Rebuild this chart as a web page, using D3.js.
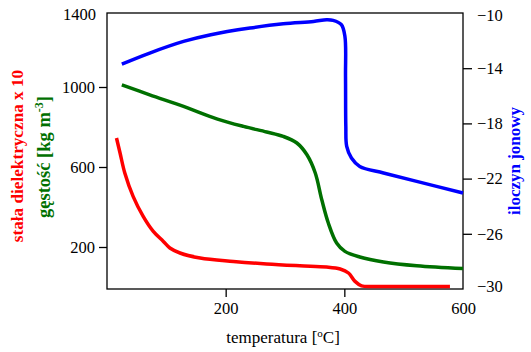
<!DOCTYPE html>
<html>
<head>
<meta charset="utf-8">
<script src="https://cdn.jsdelivr.net/npm/d3@7"></script>
</head>
<body style="margin:0">
<div id="chart"></div>
<script>
// temperatura [°C] vs stała dielektryczna x 10
const redT = [16, 22, 30, 44, 61, 78, 95, 106, 123, 157, 213, 269, 325, 370, 393, 407, 418, 429, 455, 578];
const redV = [745, 670, 570, 453, 353, 278, 228, 195, 170, 145, 128, 115, 106, 100, 90, 70, 28, 6, 3, 3];

// gęstość [kg m-3]
const greenT = [25, 72, 129, 185, 230, 269, 297, 320, 337, 351, 362, 373, 387, 401, 426, 466, 522, 600];
const greenV = [1011, 961, 903, 841, 803, 775, 753, 720, 661, 570, 436, 320, 220, 178, 150, 125, 106, 92];

// iloczyn jonowy
const blueT = [25, 72, 129, 175, 241, 297, 348, 370, 381, 395, 401, 402, 402.5, 404, 412, 426, 466, 522, 600];
const blueV = [-13.7, -12.9, -12.06, -11.57, -11.09, -10.78, -10.61, -10.49, -10.53, -10.85, -11.7, -14.6, -18.2, -19.67, -20.51, -21.12, -21.59, -22.2, -23.04];

const xTicks = [200, 400, 600];
const leftTicks = [200, 600, 1000];
const rightTicks = [-14, -18, -22, -26];

function init() {
    const W = 531, H = 352;
    const margin = { top: 13, right: 68, bottom: 63, left: 107 },
        width = W - margin.left - margin.right,
        height = H - margin.top - margin.bottom;

    const svg = d3.select("#chart").append("svg")
        .attr("width", W).attr("height", H);
    const g = svg.append("g")
        .attr("transform", `translate(${margin.left},${margin.top})`);

    const x = d3.scaleLinear().domain([0, 600]).range([0, width]);
    const yL = d3.scaleLinear().domain([-10, 1370]).range([height, 0]);
    const yR = d3.scaleLinear().domain([-30, -10]).range([height, 0]);

    // bottom axis
    const ax = g.append("g")
        .attr("transform", `translate(0,${height})`)
        .call(d3.axisBottom(x).tickValues(xTicks).tickFormat(d3.format("d"))
            .tickSize(8).tickPadding(5).tickSizeOuter(0));
    ax.selectAll("line").filter(d => d === 600).remove();

    // left axis
    g.append("g")
        .call(d3.axisLeft(yL).tickValues(leftTicks).tickFormat(d3.format("d"))
            .tickSize(8).tickPadding(4).tickSizeOuter(0));
    g.append("text")
        .attr("class", "edge")
        .attr("x", -11).attr("y", 2).attr("dy", "0.32em")
        .attr("text-anchor", "end")
        .text("1400");

    // right axis
    const ar = g.append("g")
        .attr("transform", `translate(${width},0)`)
        .call(d3.axisRight(yR).tickValues([-10, ...rightTicks, -30]).tickFormat(d3.format("d"))
            .tickSize(9).tickPadding(5).tickSizeOuter(0));
    ar.selectAll("line").filter(d => d === -10 || d === -30).remove();
    // end labels sit slightly inside the frame
    ar.selectAll(".tick text").filter(d => d === -10).attr("y", 2.5);
    ar.selectAll(".tick text").filter(d => d === -30).attr("y", -2.5);

    svg.selectAll(".domain").remove();
    svg.selectAll(".tick text, text.edge")
        .attr("font-size", 16.5)
        .attr("fill", "#000");
    svg.selectAll(".tick line").attr("stroke", "#000").attr("stroke-width", 1.3);

    // frame
    g.append("rect")
        .attr("width", width).attr("height", height)
        .attr("fill", "none").attr("stroke", "#000").attr("stroke-width", 1.3);

    const line = (xs, ys, sc) => d3.line()
        .x((d, i) => x(xs[i]))
        .y(d => sc(d))
        .curve(d3.curveCatmullRom.alpha(0.5))(ys);

    g.append("path").attr("d", line(blueT, blueV, yR))
        .attr("fill", "none").attr("stroke", "#0000ff").attr("stroke-width", 3.5);
    g.append("path").attr("d", line(greenT, greenV, yL))
        .attr("fill", "none").attr("stroke", "#007000").attr("stroke-width", 3.5);
    g.append("path").attr("d", line(redT, redV, yL))
        .attr("fill", "none").attr("stroke", "#ff0000").attr("stroke-width", 3.5);

    // x axis title
    const xt = svg.append("text")
        .attr("x", 283).attr("y", 343)
        .attr("text-anchor", "middle")
        .attr("font-size", 17);
    xt.append("tspan").text("temperatura [");
    xt.append("tspan").attr("font-size", 11).attr("dy", "-6").text("o");
    xt.append("tspan").attr("dy", "6").text("C]");

    // left titles
    svg.append("text")
        .attr("transform", "translate(23,156) rotate(-90)")
        .attr("text-anchor", "middle")
        .attr("font-size", 17.2).attr("font-weight", "bold")
        .attr("fill", "#ff0000")
        .text("stała dielektryczna x 10");

    const gt = svg.append("text")
        .attr("transform", "translate(49.5,157) rotate(-90)")
        .attr("text-anchor", "middle")
        .attr("font-size", 18.5).attr("font-weight", "bold")
        .attr("fill", "#007000");
    gt.append("tspan").text("gęstość [kg m");
    gt.append("tspan").attr("font-size", 12).attr("dy", "-7").text("-3");
    gt.append("tspan").attr("dy", "7").text("]");

    // right title
    svg.append("text")
        .attr("transform", "translate(520,161) rotate(-90)")
        .attr("text-anchor", "middle")
        .attr("font-size", 17).attr("font-weight", "bold")
        .attr("fill", "#0000ff")
        .text("iloczyn jonowy");

    svg.selectAll("g").attr("font-family", "Liberation Serif");
    svg.selectAll("text")
        .attr("font-family", "Liberation Serif")
        .style("font-family", '"Liberation Serif"');
}

init();
</script>
</body>
</html>
